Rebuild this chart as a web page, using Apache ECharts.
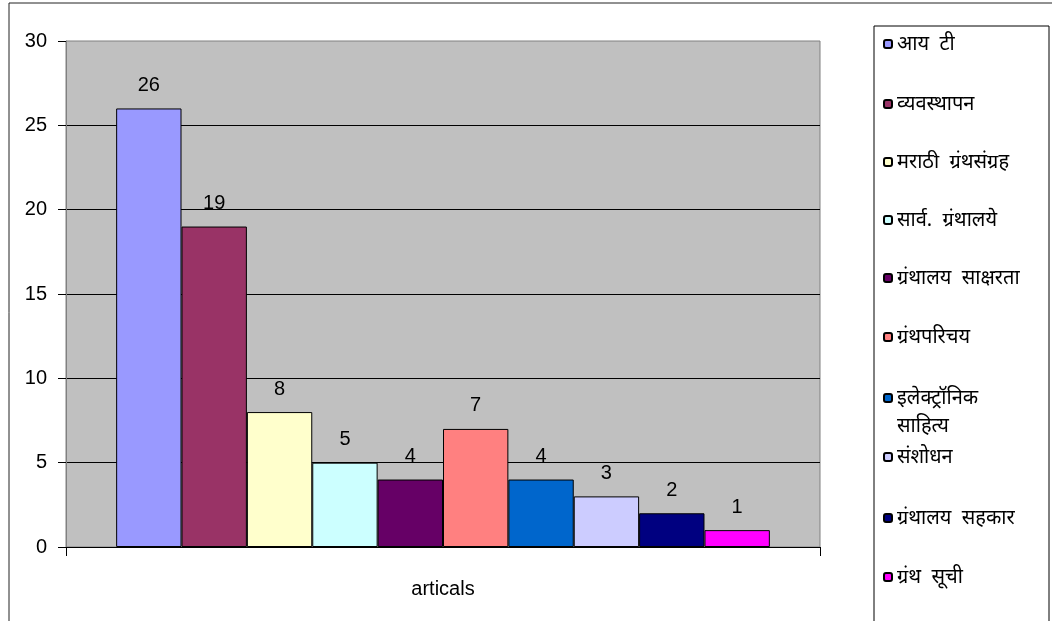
<!DOCTYPE html>
<html>
<head>
<meta charset="utf-8">
<script src="https://cdn.jsdelivr.net/npm/echarts@6/dist/echarts.min.js"></script>
<style>html,body{margin:0;padding:0;background:#fff}#c{width:1052px;height:621px}</style>
</head>
<body>
<div id="c"></div>
<script>
const categories = ['articals'];
const seriesNames = ['आय  टी','व्यवस्थापन','मराठी  ग्रंथसंग्रह','सार्व.  ग्रंथालये','ग्रंथालय  साक्षरता','ग्रंथपरिचय','इलेक्ट्रॉनिक साहित्य','संशोधन','ग्रंथालय  सहकार','ग्रंथ  सूची'];
const seriesValues = [26, 19, 8, 5, 4, 7, 4, 3, 2, 1];
const yTicks = [0, 5, 10, 15, 20, 25, 30];
const colors = ['#9999FF','#993366','#FFFFCC','#CCFFFF','#660066','#FF8080','#0066CC','#CCCCFF','#000080','#FF00FF'];

const legendCenters = [44, 104, 162, 220, 278, 337, 398, 457, 518, 577];
const devFont = "'Noto Sans', 'Lohit Devanagari', 'Mangal', sans-serif";
const LH = 24, WLH = 28;

const chart = echarts.init(document.getElementById('c'));
const legends = seriesNames.map((n, i) => {
  const wrapped = n.indexOf('इलेक्ट्रॉनिक') === 0;
  return {
    data: [n],
    orient: 'vertical',
    left: 883,
    top: wrapped ? legendCenters[i] - WLH * 1.5 : legendCenters[i] - LH / 2,
    padding: 0,
    itemWidth: 8,
    itemHeight: 8,
    selectedMode: false,
    formatter: wrapped ? (s => ' \n' + s.replace(' ', '\n')) : (s => s),
    textStyle: { fontSize: 20, color: '#000', fontFamily: devFont, lineHeight: wrapped ? WLH : LH }
  };
});

chart.setOption({
  animation: false,
  color: colors,
  grid: {
    left: 66, top: 41, right: 232, bottom: 74,
    show: true, backgroundColor: '#C0C0C0', borderColor: '#808080', borderWidth: 1
  },
  graphic: [
    { type: 'rect', shape: { x: 9, y: 3, width: 1100, height: 700 }, style: { fill: 'none', stroke: '#222', lineWidth: 1 }, z: -10 },
    { type: 'rect', shape: { x: 874, y: 26, width: 175, height: 700 }, style: { fill: 'none', stroke: '#000', lineWidth: 1 }, z: -10 }
  ],
  legend: legends,
  xAxis: {
    type: 'category',
    data: categories,
    axisLine: { lineStyle: { color: '#000', width: 1 } },
    axisTick: { show: true, length: 9, alignWithLabel: false, lineStyle: { color: '#000' } },
    axisLabel: { fontSize: 20, color: '#000', margin: 32, fontFamily: "'Liberation Sans Narrow', 'Liberation Sans', Arial, sans-serif" }
  },
  yAxis: {
    type: 'value',
    min: yTicks[0], max: yTicks[yTicks.length - 1], interval: 5,
    axisLine: { show: true, lineStyle: { color: '#808080' } },
    axisTick: { show: true, length: 8, lineStyle: { color: '#000' } },
    axisLabel: { fontSize: 20, color: '#000', margin: 19, fontFamily: "'Liberation Sans', Arial, sans-serif" },
    splitLine: { show: true, showMinLine: false, showMaxLine: false, lineStyle: { color: '#000', width: 1 } }
  },
  series: seriesNames.map((n, i) => ({
    name: n,
    type: 'bar',
    data: [seriesValues[i]],
    barGap: 0,
    barCategoryGap: '13.3%',
    itemStyle: { color: colors[i], borderColor: '#000', borderWidth: 1 },
    label: { show: true, position: 'top', distance: 13, fontSize: 20, color: '#000', fontFamily: "'Liberation Sans', Arial, sans-serif" }
  }))
});
</script>
</body>
</html>
